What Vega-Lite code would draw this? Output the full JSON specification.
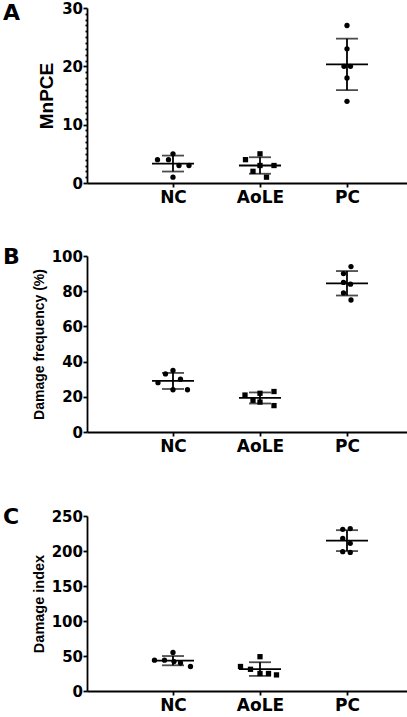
{
  "$schema": "https://vega.github.io/schema/vega-lite/v6.json",
  "padding": {"left": 3, "top": 1, "right": 0, "bottom": 0},
  "spacing": 30,
  "config": {
    "view": {"stroke": null},
    "font": "DejaVu Sans",
    "axis": {
      "grid": false,
      "domainColor": "black",
      "domainWidth": 1.8,
      "tickColor": "black",
      "tickWidth": 1.8,
      "labelColor": "black",
      "labelFont": "DejaVu Sans",
      "labelFontWeight": "bold",
      "titleColor": "black",
      "titleFont": "Liberation Sans",
      "titleFontWeight": "bold",
      "labelOverlap": false
    },
    "axisX": {"labelFontSize": 17, "tickSize": 4, "labelPadding": 2, "labelAngle": 0},
    "axisY": {"labelFontSize": 15, "tickSize": 4, "labelPadding": 0.5, "titlePadding": 5},
    "title": {
      "font": "DejaVu Sans",
      "fontSize": 22,
      "fontWeight": "bold",
      "color": "black",
      "anchor": "start",
      "frame": "group",
      "dx": -84
    }
  },
  "vconcat": [
    {
      "title": {"text": "A", "offset": -23.5},
      "width": 320,
      "height": 175,
      "data": {
        "values": [
          {"group": "NC", "value": 4, "lane": -3.1},
          {"group": "NC", "value": 4, "lane": -0.9},
          {"group": "NC", "value": 5, "lane": 0},
          {"group": "NC", "value": 3, "lane": 1.2},
          {"group": "NC", "value": 3, "lane": 3.2},
          {"group": "NC", "value": 1, "lane": 0},
          {"group": "AoLE", "value": 4, "lane": -2.9},
          {"group": "AoLE", "value": 5, "lane": 0},
          {"group": "AoLE", "value": 3, "lane": 0},
          {"group": "AoLE", "value": 3, "lane": 2.8},
          {"group": "AoLE", "value": 2, "lane": -1.4},
          {"group": "AoLE", "value": 1, "lane": 1.3},
          {"group": "PC", "value": 27, "lane": 0},
          {"group": "PC", "value": 23, "lane": 0},
          {"group": "PC", "value": 20, "lane": -0.6},
          {"group": "PC", "value": 20, "lane": 0.7},
          {"group": "PC", "value": 18, "lane": 0},
          {"group": "PC", "value": 14, "lane": 0}
        ]
      },
      "encoding": {
        "x": {
          "field": "group",
          "type": "nominal",
          "sort": ["NC", "AoLE", "PC"],
          "scale": {"type": "point", "domain": ["NC", "AoLE", "PC"], "padding": 0.839, "align": 0.589},
          "axis": {"title": null, "minExtent": 33}
        },
        "y": {
          "field": "value",
          "type": "quantitative",
          "title": "MnPCE",
          "scale": {"domain": [0, 30], "nice": false},
          "axis": {
            "titleFontSize": 19,
            "values": [0, 1, 2, 3, 4, 5, 6, 7, 8, 9, 10, 11, 12, 13, 14, 15, 16, 17, 18, 19, 20, 21, 22, 23, 24, 25, 26, 27, 28, 29, 30],
            "labelExpr": "datum.value % 10 === 0 ? datum.label : ''",
            "tickSize": {"condition": {"test": "datum.value % 10 === 0", "value": 4}, "value": 2}
          }
        }
      },
      "layer": [
        {
          "mark": {"type": "errorbar", "extent": "stdev", "color": "black", "thickness": 1.8, "ticks": {"size": 22, "thickness": 1.8, "color": "black"}}
        },
        {
          "mark": {"type": "tick", "color": "black", "size": 42, "thickness": 1.8, "orient": "horizontal", "opacity": 1},
          "encoding": {"y": {"field": "value", "aggregate": "mean", "type": "quantitative", "title": "MnPCE"}}
        },
        {
          "mark": {"type": "point", "filled": true, "color": "black", "opacity": 1, "size": 28},
          "encoding": {
            "xOffset": {"field": "lane", "type": "quantitative", "scale": {"domain": [-4, 4], "range": [-20, 20]}},
            "shape": {"field": "group", "type": "nominal", "scale": {"domain": ["NC", "AoLE", "PC"], "range": ["circle", "square", "circle"]}, "legend": null}
          }
        }
      ]
    },
    {
      "title": {"text": "B", "offset": -20},
      "width": 320,
      "height": 176,
      "data": {
        "values": [
          {"group": "NC", "value": 28, "lane": -3},
          {"group": "NC", "value": 33, "lane": -1.5},
          {"group": "NC", "value": 35, "lane": 0},
          {"group": "NC", "value": 30, "lane": 1.5},
          {"group": "NC", "value": 24, "lane": 0},
          {"group": "NC", "value": 24, "lane": 2.9},
          {"group": "AoLE", "value": 21, "lane": -3},
          {"group": "AoLE", "value": 22, "lane": 0},
          {"group": "AoLE", "value": 17, "lane": 0},
          {"group": "AoLE", "value": 23, "lane": 2.8},
          {"group": "AoLE", "value": 15, "lane": 2.8},
          {"group": "AoLE", "value": 18, "lane": -1.4},
          {"group": "PC", "value": 94, "lane": 0.8},
          {"group": "PC", "value": 90, "lane": -0.7},
          {"group": "PC", "value": 85, "lane": -0.7},
          {"group": "PC", "value": 84, "lane": 0.7},
          {"group": "PC", "value": 79, "lane": -0.7},
          {"group": "PC", "value": 75, "lane": 0.8}
        ]
      },
      "encoding": {
        "x": {
          "field": "group",
          "type": "nominal",
          "sort": ["NC", "AoLE", "PC"],
          "scale": {"type": "point", "domain": ["NC", "AoLE", "PC"], "padding": 0.839, "align": 0.589},
          "axis": {"title": null, "minExtent": 44}
        },
        "y": {
          "field": "value",
          "type": "quantitative",
          "title": "Damage frequency (%)",
          "scale": {"domain": [0, 100], "nice": false},
          "axis": {"titleFontSize": 14, "values": [0, 20, 40, 60, 80, 100]}
        }
      },
      "layer": [
        {
          "mark": {"type": "errorbar", "extent": "stdev", "color": "black", "thickness": 1.8, "ticks": {"size": 22, "thickness": 1.8, "color": "black"}}
        },
        {
          "mark": {"type": "tick", "color": "black", "size": 42, "thickness": 1.8, "orient": "horizontal", "opacity": 1},
          "encoding": {"y": {"field": "value", "aggregate": "mean", "type": "quantitative", "title": "Damage frequency (%)"}}
        },
        {
          "mark": {"type": "point", "filled": true, "color": "black", "opacity": 1, "size": 28},
          "encoding": {
            "xOffset": {"field": "lane", "type": "quantitative", "scale": {"domain": [-4, 4], "range": [-20, 20]}},
            "shape": {"field": "group", "type": "nominal", "scale": {"domain": ["NC", "AoLE", "PC"], "range": ["circle", "square", "circle"]}, "legend": null}
          }
        }
      ]
    },
    {
      "title": {"text": "C", "offset": -20},
      "width": 320,
      "height": 175,
      "data": {
        "values": [
          {"group": "NC", "value": 44, "lane": -3.7},
          {"group": "NC", "value": 44, "lane": -1.7},
          {"group": "NC", "value": 55, "lane": 0},
          {"group": "NC", "value": 42, "lane": 0.2},
          {"group": "NC", "value": 40, "lane": 1.5},
          {"group": "NC", "value": 35, "lane": 3.5},
          {"group": "AoLE", "value": 35, "lane": -3.9},
          {"group": "AoLE", "value": 31, "lane": -1.9},
          {"group": "AoLE", "value": 49, "lane": 0},
          {"group": "AoLE", "value": 25, "lane": 0},
          {"group": "AoLE", "value": 25, "lane": 1.7},
          {"group": "AoLE", "value": 23, "lane": 3.3},
          {"group": "PC", "value": 231, "lane": -0.85},
          {"group": "PC", "value": 232, "lane": 0.65},
          {"group": "PC", "value": 218, "lane": -0.85},
          {"group": "PC", "value": 211, "lane": 0.65},
          {"group": "PC", "value": 199, "lane": -0.85},
          {"group": "PC", "value": 198, "lane": 0.65}
        ]
      },
      "encoding": {
        "x": {
          "field": "group",
          "type": "nominal",
          "sort": ["NC", "AoLE", "PC"],
          "scale": {"type": "point", "domain": ["NC", "AoLE", "PC"], "padding": 0.839, "align": 0.589},
          "axis": {"title": null}
        },
        "y": {
          "field": "value",
          "type": "quantitative",
          "title": "Damage index",
          "scale": {"domain": [0, 250], "nice": false},
          "axis": {"titleFontSize": 14.5, "values": [0, 50, 100, 150, 200, 250]}
        }
      },
      "layer": [
        {
          "mark": {"type": "errorbar", "extent": "stdev", "color": "black", "thickness": 1.8, "ticks": {"size": 22, "thickness": 1.8, "color": "black"}}
        },
        {
          "mark": {"type": "tick", "color": "black", "size": 42, "thickness": 1.8, "orient": "horizontal", "opacity": 1},
          "encoding": {"y": {"field": "value", "aggregate": "mean", "type": "quantitative", "title": "Damage index"}}
        },
        {
          "mark": {"type": "point", "filled": true, "color": "black", "opacity": 1, "size": 28},
          "encoding": {
            "xOffset": {"field": "lane", "type": "quantitative", "scale": {"domain": [-4, 4], "range": [-20, 20]}},
            "shape": {"field": "group", "type": "nominal", "scale": {"domain": ["NC", "AoLE", "PC"], "range": ["circle", "square", "circle"]}, "legend": null}
          }
        }
      ]
    }
  ]
}
